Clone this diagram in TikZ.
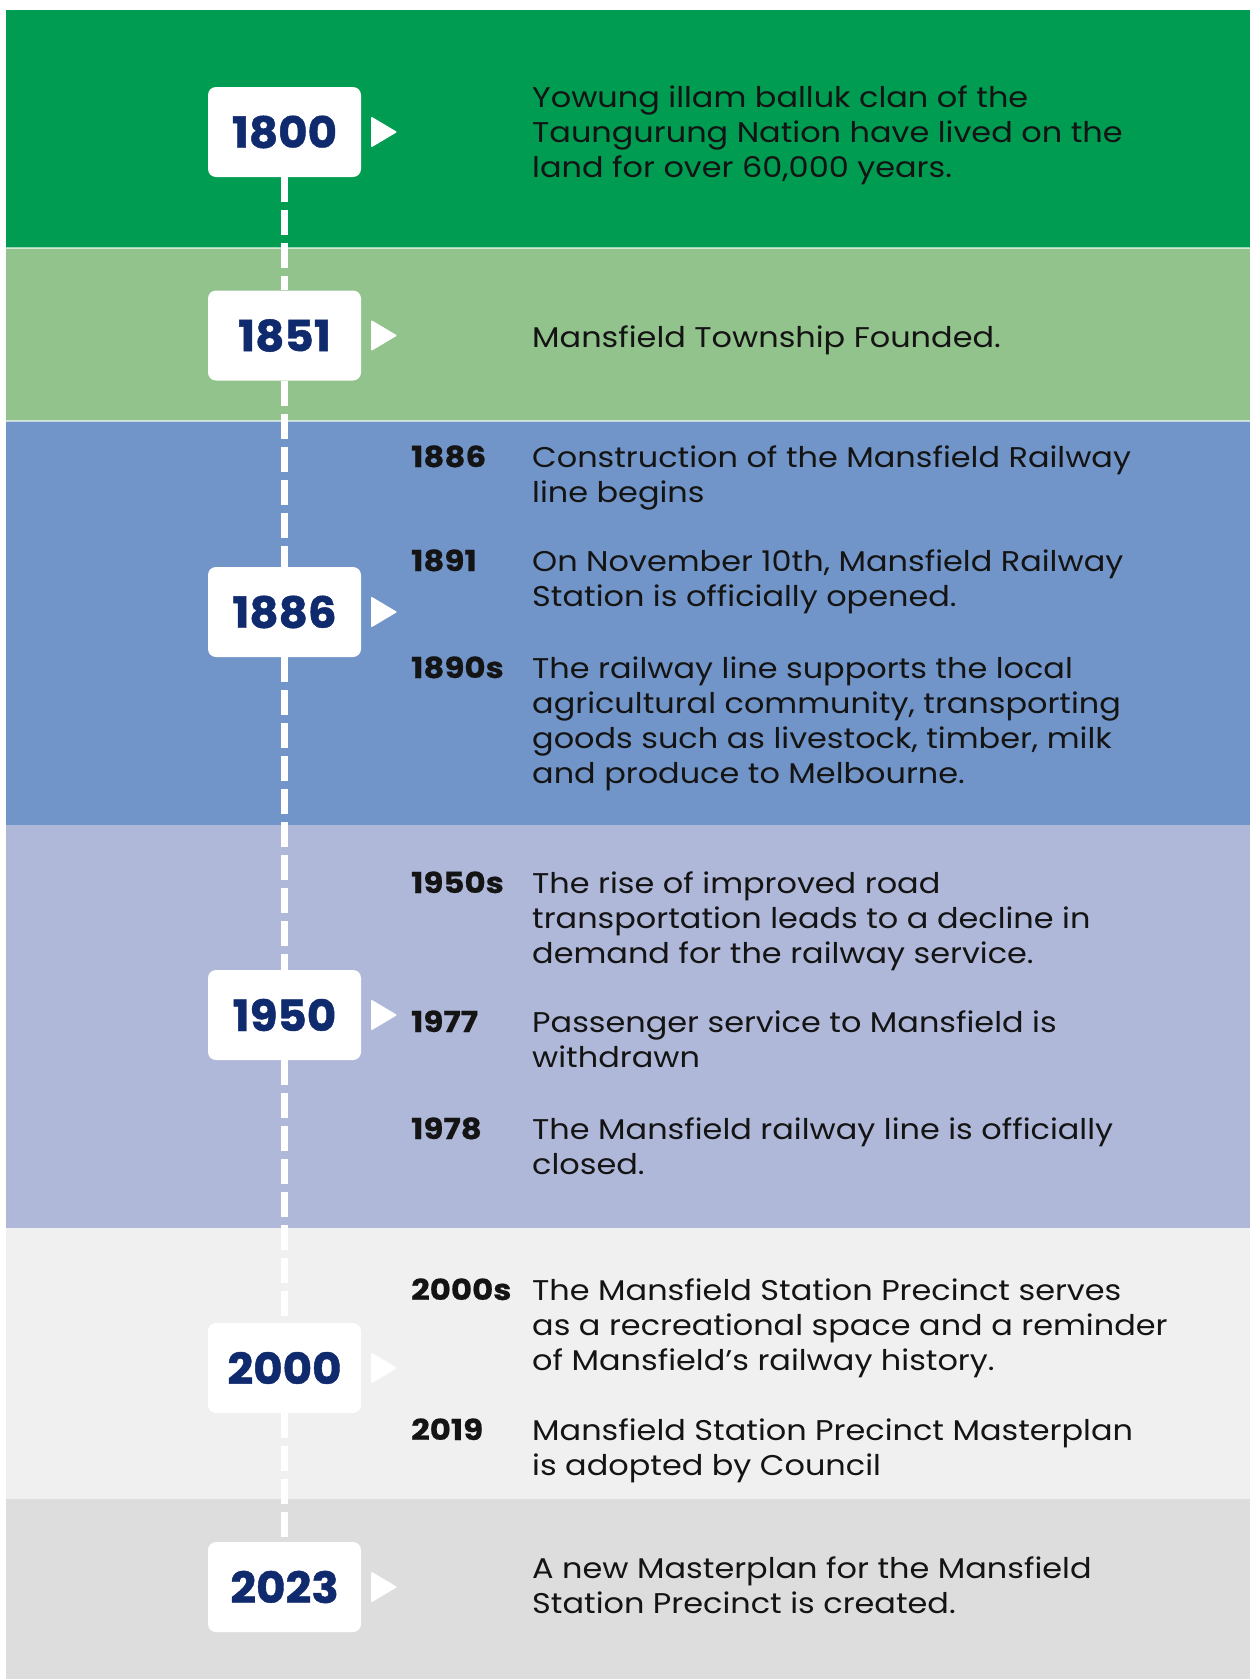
\documentclass[tikz,border=0pt]{standalone}
\usepackage{fontspec}
\setmainfont{Poppins}[FakeStretch=1.12, BoldFeatures={FakeBold=0.6}]
\newfontfamily\boxfont{Poppins}[FakeStretch=1.05, BoldFeatures={FakeBold=1}]
\usetikzlibrary{calc,positioning}

\definecolor{bandA}{RGB}{0,156,81}
\definecolor{bandB}{RGB}{146,195,140}
\definecolor{bandC}{RGB}{113,149,200}
\definecolor{bandD}{RGB}{175,184,217}
\definecolor{bandE}{RGB}{240,240,240}
\definecolor{bandF}{RGB}{221,221,221}
\definecolor{navy}{RGB}{16,42,110}
\definecolor{ink}{RGB}{20,20,20}

\tikzset{
	yearbox/.style={fill=white, rounded corners=8pt, minimum width=153pt, minimum height=90pt, inner sep=0pt, text=navy, font=\boxfont\fontsize{43}{43}\selectfont\bfseries},
	subyear/.style={anchor=base west, inner sep=0pt, text=ink, font=\fontsize{29}{35}\selectfont\bfseries},
	blurb/.style={anchor=base west, align=left, inner sep=0pt, text=ink, font=\fontsize{28.5}{35}\selectfont},
	timeline/.style={white, line width=7pt, dash pattern=on 25pt off 8pt},
}
\def\pointer(#1){\fill[white, rounded corners=1pt] ($(#1.east)+(10,-15.5)$) -- ++(26,15.5) -- ++(-26,15.5) -- cycle;}

\begin{document}
\begin{tikzpicture}[x=1pt, y=-1pt]
		%%%%% START %%%%%
		
		\useasboundingbox (0, 0) rectangle (1250, 1679);
		\fill[white] (0, 0) rectangle (1250, 1679);
		
		\fill[bandA] (6, 10) rectangle (1250, 248);
		\fill[bandB] (6, 248) rectangle (1250, 421);
		\fill[bandC] (6, 421) rectangle (1250, 825);
		\fill[bandD] (6, 825) rectangle (1250, 1228);
		\fill[bandE] (6, 1228) rectangle (1250, 1499);
		\fill[bandF] (6, 1499) rectangle (1250, 1679);
		
		\draw[white, opacity=0.6, line width=1.5pt] (6, 248) -- (1250, 248);
		\draw[white, opacity=0.6, line width=1.5pt] (6, 421) -- (1250, 421);
		
		\node[yearbox] (y1800) at (284.5, 132) {1800};
		\node[yearbox] (y1851) at (284.5, 335.5) {1851};
		\node[yearbox] (y1886) at (284.5, 612) {1886};
		\node[yearbox] (y1950) at (284.5, 1015) {1950};
		\node[yearbox] (y2000) at (284.5, 1368) {2000};
		\node[yearbox] (y2023) at (284.5, 1587) {2023};
		
		\foreach \a/\b in {y1800/y1851, y1851/y1886, y1886/y1950, y1950/y2000, y2000/y2023}
			\draw[timeline] (\a) -- (\b);
		
		\foreach \n in {y1800, y1851, y1886, y1950, y2000, y2023}
			{\pointer(\n)}
		
		% blurbs sit on the baseline of their last line
		\node[blurb] (t1800) at (532, 177) {Yowung illam balluk clan of the\\Taungurung Nation have lived on the\\land for over 60,000 years.};
		
		\node[blurb] (t1851) at (532, 347) {Mansfield Township Founded.};
		
		\node[subyear] (s1886) at (411, 467) {1886};
		\node[blurb] (t1886) at (532, 502) {Construction of the Mansfield Railway\\line begins};
		\node[subyear] (s1891) at (411, 571) {1891};
		\node[blurb] (t1891) at (532, 606) {On November 10th, Mansfield Railway\\Station is officially opened.};
		\node[subyear] (s1890s) at (411, 678) {1890s};
		\node[blurb] (t1890s) at (532, 783) {The railway line supports the local\\agricultural community, transporting\\goods such as livestock, timber, milk\\and produce to Melbourne.};
		
		\node[subyear] (s1950s) at (411, 893) {1950s};
		\node[blurb] (t1950s) at (532, 963) {The rise of improved road\\transportation leads to a decline in\\demand for the railway service.};
		\node[subyear] (s1977) at (411, 1032) {1977};
		\node[blurb] (t1977) at (532, 1067) {Passenger service to Mansfield is\\withdrawn};
		\node[subyear] (s1978) at (411, 1139) {1978};
		\node[blurb] (t1978) at (532, 1174) {The Mansfield railway line is officially\\closed.};
		
		\node[subyear] (s2000s) at (411, 1300) {2000s};
		\node[blurb] (t2000s) at (532, 1370) {The Mansfield Station Precinct serves\\as a recreational space and a reminder\\of Mansfield’s railway history.};
		\node[subyear] (s2019) at (411, 1440) {2019};
		\node[blurb] (t2019) at (532, 1475) {Mansfield Station Precinct Masterplan\\is adopted by Council};
		
		\node[blurb] (t2023) at (532, 1613) {A new Masterplan for the Mansfield\\Station Precinct is created.};
		
		%%%%% END %%%%%
\end{tikzpicture}
\end{document}
